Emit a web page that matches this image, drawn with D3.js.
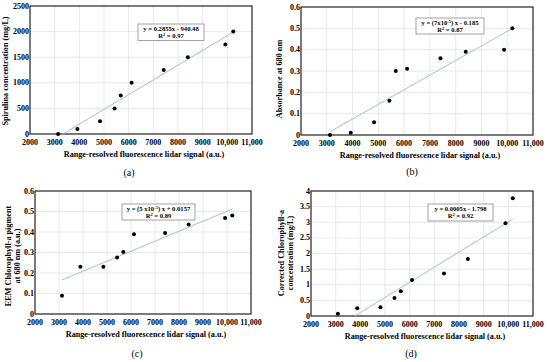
<!DOCTYPE html>
<html>
<head>
<meta charset="utf-8">
<title>Lidar signal calibration</title>
<script src="https://d3js.org/d3.v7.min.js"></script>
<style>
  body { margin: 0; background: #fff; }
  text { font-family: "Liberation Serif", "Times New Roman", serif; }
</style>
</head>
<body>
<div id="chart"></div>
<script>
  // shared x axis ticks
  const xTicks = [2000, 3000, 4000, 5000, 6000, 7000, 8000, 9000, 10000, 11000];
  const xTickLabels = ["2000", "3000", "4000", "5000", "6000", "7000", "8000", "9000", "10,000", "11,000"];

  // (a) spirulina
  const signalA = [3140, 3920, 4840, 5430, 5680, 6120, 7420, 8400, 9920, 10240];
  const spirulina = [0, 100, 250, 500, 750, 1000, 1250, 1500, 1750, 2000];
  const trendAx = [3330, 10240], trendAy = [0, 1990];
  const yTicksA = [0, 500, 1000, 1500, 2000, 2500];

  // (b) absorbance
  const signalB = [3125, 3930, 4835, 5430, 5675, 6115, 7410, 8390, 9880, 10200];
  const absorbance = [0, 0.01, 0.06, 0.16, 0.30, 0.31, 0.36, 0.39, 0.40, 0.50];
  const trendBx = [3125, 10200], trendBy = [0.015, 0.50];
  const yTicksB = [0, 0.1, 0.2, 0.3, 0.4, 0.5, 0.6];

  // (c) EEM chlorophyll-a
  const signalC = [3125, 3890, 4850, 5420, 5680, 6125, 7420, 8400, 9920, 10220];
  const eemChl = [0.089, 0.231, 0.231, 0.276, 0.302, 0.389, 0.395, 0.436, 0.468, 0.481];
  const trendCx = [3125, 10220], trendCy = [0.166, 0.512];
  const yTicksC = [0, 0.1, 0.2, 0.3, 0.4, 0.5, 0.6];

  // (d) corrected chlorophyll-a
  const signalD = [3090, 3875, 4815, 5385, 5640, 6095, 7390, 8360, 9885, 10180];
  const corrChl = [0.075, 0.246, 0.278, 0.577, 0.79, 1.154, 1.357, 1.827, 2.97, 3.77];
  const trendDx = [3770, 10180], trendDy = [0, 3.1];
  const yTicksD = [0, 0.5, 1, 1.5, 2, 2.5, 3, 3.5, 4];

  const xTitle = "Range-resolved fluorescence lidar signal (a.u.)";

  const svg = d3.select("#chart").append("svg")
    .attr("width", 550)
    .attr("height", 362);

  function drawPanel(p) {
    const x = d3.scaleLinear().domain([2000, 11000]).range([p.left, p.right]);
    const y = d3.scaleLinear().domain([0, d3.max(p.yTicks)]).range([p.bottom, p.top]);
    const g = svg.append("g");

    // grid
    g.selectAll(".vgrid").data(xTicks.slice(1, -1)).enter().append("line")
      .attr("x1", d => x(d)).attr("x2", d => x(d))
      .attr("y1", p.top).attr("y2", p.bottom)
      .attr("stroke", "#e3e3e3").attr("stroke-width", 0.8);
    g.selectAll(".hgrid").data(p.yTicks.slice(1, -1)).enter().append("line")
      .attr("x1", p.left).attr("x2", p.right)
      .attr("y1", d => y(d)).attr("y2", d => y(d))
      .attr("stroke", "#e3e3e3").attr("stroke-width", 0.8);

    // frame
    g.append("rect")
      .attr("x", p.left).attr("y", p.top)
      .attr("width", p.right - p.left).attr("height", p.bottom - p.top)
      .attr("fill", "none").attr("stroke", "#222").attr("stroke-width", 1.2);

    // tick labels
    g.selectAll(".xl").data(xTicks).enter().append("text")
      .attr("x", d => x(d))
      .attr("y", p.bottom + 11)
      .attr("text-anchor", "middle")
      .style("font-size", "8px").style("font-weight", "bold")
      .text((d, i) => xTickLabels[i]);
    g.selectAll(".yl").data(p.yTicks).enter().append("text")
      .attr("x", p.left - 1)
      .attr("y", d => y(d) + 2.5)
      .attr("text-anchor", "end")
      .style("font-size", "8px").style("font-weight", "bold")
      .text(d => String(d));

    // axis titles
    g.append("text")
      .attr("x", (p.left + p.right) / 2 + 3)
      .attr("y", p.bottom + 23)
      .attr("text-anchor", "middle")
      .style("font-size", "8.2px").style("font-weight", "bold")
      .text(xTitle);
    p.yTitle.forEach((t, i) => {
      g.append("text")
        .attr("transform", `translate(${p.yTitleX + i * 9},${p.yTitleY}) rotate(-90)`)
        .attr("text-anchor", "middle")
        .style("font-size", "8.2px").style("font-weight", "bold")
        .text(t);
    });

    // trend line
    g.append("line")
      .attr("x1", x(p.tx[0])).attr("y1", y(p.ty[0]))
      .attr("x2", x(p.tx[1])).attr("y2", y(p.ty[1]))
      .attr("stroke", "#9cc2e5").attr("stroke-width", 1);

    // points
    g.selectAll(".pt").data(p.xs).enter().append("circle")
      .attr("cx", d => x(d))
      .attr("cy", (d, i) => y(p.ys[i]))
      .attr("r", 2)
      .attr("fill", "#000");

    // equation box
    g.append("rect")
      .attr("x", p.box[0]).attr("y", p.box[1])
      .attr("width", p.box[2]).attr("height", p.box[3])
      .attr("fill", "#fff").attr("stroke", "#8a8a8a").attr("stroke-width", 0.8);
    const cx = p.box[0] + p.box[2] / 2;
    const eq = g.append("text")
      .attr("x", cx).attr("y", p.box[1] + 6.8)
      .attr("text-anchor", "middle")
      .style("font-size", "6.6px").style("font-weight", "bold");
    p.eq.forEach(part => {
      const ts = eq.append("tspan").text(part.t);
      if (part.sup) ts.attr("baseline-shift", "super").style("font-size", "4.5px");
    });
    const r2 = g.append("text")
      .attr("x", cx).attr("y", p.box[1] + 13.6)
      .attr("text-anchor", "middle")
      .style("font-size", "6.6px").style("font-weight", "bold");
    r2.append("tspan").text("R");
    r2.append("tspan").attr("baseline-shift", "super").style("font-size", "4.5px").text("2");
    r2.append("tspan").text(" = " + p.r2);

    // panel letter
    g.append("text")
      .attr("x", p.letterX).attr("y", p.letterY)
      .attr("text-anchor", "middle")
      .style("font-size", "10px")
      .text(p.letter);
  }

  drawPanel({
    left: 30, right: 252, top: 6, bottom: 134,
    yTicks: yTicksA, xs: signalA, ys: spirulina, tx: trendAx, ty: trendAy,
    yTitle: ["Spirulina concentration (mg/L)"], yTitleX: 8, yTitleY: 71,
    box: [138, 24, 66, 16.5],
    eq: [{t: "y = 0.2855x - 940.48"}], r2: "0.97",
    letter: "(a)", letterX: 129, letterY: 176
  });
  drawPanel({
    left: 301, right: 533, top: 7, bottom: 135,
    yTicks: yTicksB, xs: signalB, ys: absorbance, tx: trendBx, ty: trendBy,
    yTitle: ["Absorbance at 680 nm"], yTitleX: 282, yTitleY: 79,
    box: [416, 18, 68, 16],
    eq: [{t: "y = (7x10"}, {t: "-5", sup: true}, {t: ") x - 0.185"}], r2: "0.87",
    letter: "(b)", letterX: 412, letterY: 175
  });
  drawPanel({
    left: 35, right: 251, top: 191, bottom: 314,
    yTicks: yTicksC, xs: signalC, ys: eemChl, tx: trendCx, ty: trendCy,
    yTitle: ["EEM Chlorophyll-a pigment", "at 680 nm (a.u.)"], yTitleX: 11, yTitleY: 256,
    box: [122, 204, 73, 16],
    eq: [{t: "y = (5 x10"}, {t: "-5", sup: true}, {t: ") x + 0.0157"}], r2: "0.89",
    letter: "(c)", letterX: 137, letterY: 357
  });
  drawPanel({
    left: 311, right: 533, top: 191, bottom: 316,
    yTicks: yTicksD, xs: signalD, ys: corrChl, tx: trendDx, ty: trendDy,
    yTitle: ["Corrected Chlorophyll-a", "concentration (mg/L)"], yTitleX: 284, yTitleY: 253,
    box: [428, 204, 65, 17],
    eq: [{t: "y = 0.0005x - 1.798"}], r2: "0.92",
    letter: "(d)", letterX: 411, letterY: 357
  });
</script>
</body>
</html>
